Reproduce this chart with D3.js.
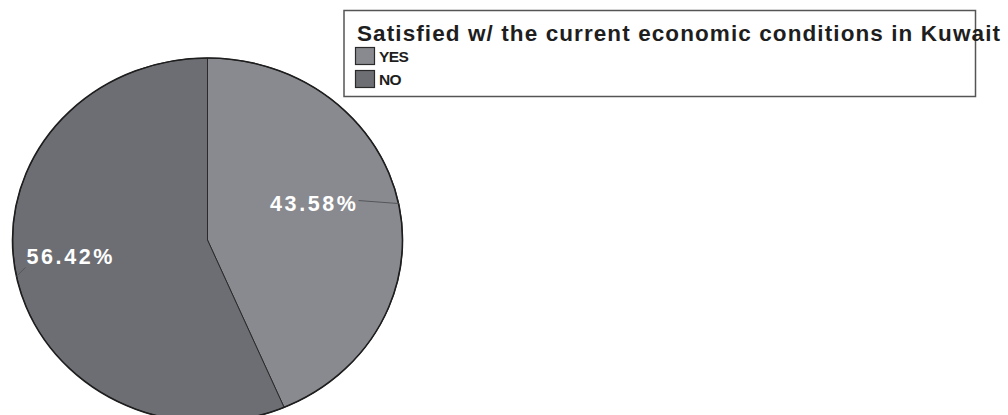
<!DOCTYPE html>
<html>
<head>
<meta charset="utf-8">
<script src="https://cdn.jsdelivr.net/npm/d3@7"></script>
<style>
  html, body { margin: 0; padding: 0; background: #fff; }
  svg { display: block; }
  text { font-family: "Liberation Sans", Arial, sans-serif; }
</style>
</head>
<body>
<svg id="chart" width="1008" height="415"></svg>
<script>
// Survey answers and their shares (percent)
const categories = ["YES", "NO"];
const shares = [43.58, 56.42];
const legendTitle = "Satisfied w/ the current economic conditions in Kuwait";
const fills = ["#898a8f", "#6d6e73"];

const W = 1008, H = 415;
const svg = d3.select("#chart");

// Elliptical pie: unit arcs scaled to the x/y radii
const cx = 207.5, cy = 240, rx = 195, ry = 182;
const pie = d3.pie().sort(null).value(d => d.value);
const arcs = pie(categories.map((c, i) => ({ name: c, value: shares[i] })));
const unitArc = d3.arc().innerRadius(0).outerRadius(1);
const color = d3.scaleOrdinal().domain(categories).range(fills);

const g = svg.append("g").attr("transform", `translate(${cx},${cy}) scale(${rx},${ry})`);
g.selectAll("path.slice")
  .data(arcs)
  .join("path")
  .attr("class", "slice")
  .attr("d", unitArc)
  .attr("fill", d => color(d.data.name))
  .attr("stroke", "#2a2a2a")
  .attr("stroke-width", 1)
  .attr("vector-effect", "non-scaling-stroke");

// Heavier outer rim
g.append("ellipse")
  .attr("cx", 0).attr("cy", 0).attr("rx", 1).attr("ry", 1)
  .attr("fill", "none")
  .attr("stroke", "#1e1e1e")
  .attr("stroke-width", 1.6)
  .attr("vector-effect", "non-scaling-stroke");

// Point on the rim at the middle of each slice
function rimPoint(d) {
  const a = (d.startAngle + d.endAngle) / 2;
  return [cx + rx * Math.sin(a), cy - ry * Math.cos(a)];
}

const fmt = v => d3.format(".2f")(v) + "%";
const labels = svg.append("g");
arcs.forEach(d => {
  const [ex, ey] = rimPoint(d);
  const right = ex > cx;
  // Leader line from rim toward the label
  const lx = right ? ex - 40 : ex + 9;
  const ly = right ? ey - 3 : ey - 9;
  labels.append("line")
    .attr("x1", ex).attr("y1", ey)
    .attr("x2", lx).attr("y2", ly)
    .attr("stroke", "#55565a")
    .attr("stroke-width", 1);
  labels.append("text")
    .attr("x", right ? lx : lx + 1)
    .attr("y", right ? ey + 7 : ey - 12)
    .attr("text-anchor", right ? "end" : "start")
    .attr("fill", "#ffffff")
    .attr("font-size", 21.5)
    .attr("font-weight", "bold")
    .attr("letter-spacing", 2.6)
    .text(fmt(d.data.value));
});

// Legend box
const leg = svg.append("g");
leg.append("rect")
  .attr("x", 344).attr("y", 10.5)
  .attr("width", 631.5).attr("height", 86)
  .attr("fill", "#ffffff")
  .attr("stroke", "#555555")
  .attr("stroke-width", 1.5);
leg.append("text")
  .attr("x", 357).attr("y", 41)
  .attr("font-size", 22.5)
  .attr("font-weight", "bold")
  .attr("fill", "#1e1e1e")
  .attr("textLength", 643)
  .attr("lengthAdjust", "spacing")
  .text(legendTitle);

const items = leg.selectAll("g.item")
  .data(categories)
  .join("g")
  .attr("class", "item")
  .attr("transform", (d, i) => `translate(355,${47 + i * 23})`);
items.append("rect")
  .attr("x", 0.5).attr("y", 0.5)
  .attr("width", 19).attr("height", 17)
  .attr("fill", d => color(d))
  .attr("stroke", "#2a2a2a")
  .attr("stroke-width", 1.2);
items.append("text")
  .attr("x", 24).attr("y", 15)
  .attr("font-size", 15.5)
  .attr("font-weight", "bold")
  .attr("fill", "#1e1e1e")
  .attr("letter-spacing", -0.6)
  .text(d => d);
</script>
</body>
</html>
